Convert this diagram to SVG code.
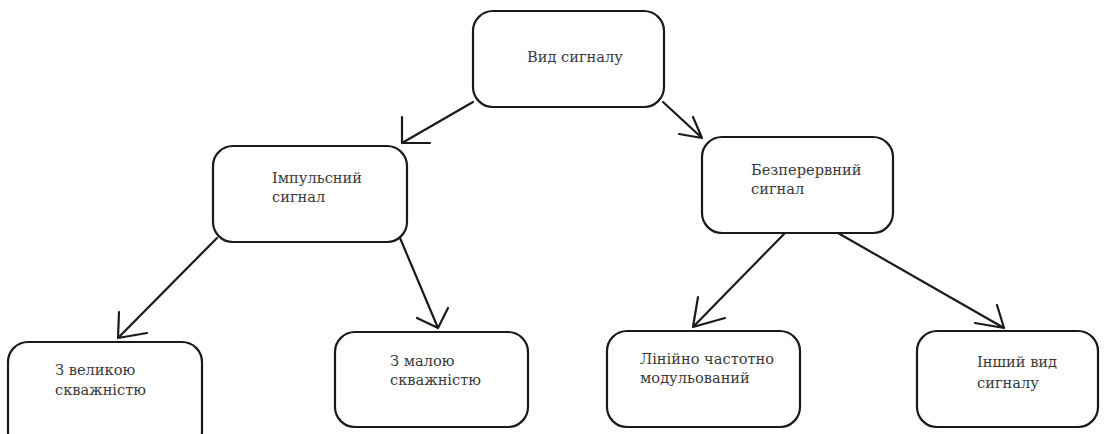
<svg xmlns="http://www.w3.org/2000/svg" width="1109" height="434" viewBox="0 0 1109 434">
<style>
.box{fill:#fff;stroke:#1a1a1a;stroke-width:2.2}
.t{font-family:'DejaVu Serif','Liberation Serif',serif;font-size:14.6px;fill:#3a3a3a}
.c{stroke:#1a1a1a;stroke-width:2.2;fill:none;stroke-linecap:round;stroke-linejoin:round}
</style>
<rect width="1109" height="434" fill="#fff"/>
<g id="connectors">
<path class="c" d="M473 102 L402 143 M402 117 L402 143 L430 143"/>
<path class="c" d="M663 102 L702 138 M693 117 L702 138 L679 134"/>
<path class="c" d="M217 238 L118 338 M119 312 L118 338 L147 333"/>
<path class="c" d="M400 238 L438 328 M448 308 L438 328 L417 318"/>
<path class="c" d="M785 233 L693 327 M698 297 L693 327 L725 318"/>
<path class="c" d="M838 233 L1004 328 M997 305 L1004 328 L975 323"/>
</g>
<g id="n-vyd">
<rect class="box" x="473" y="11" width="191" height="96" rx="20"/>
<text class="t" x="527" y="62">Вид сигналу</text>
</g>
<g id="n-imp">
<rect class="box" x="213" y="146" width="194" height="96" rx="20"/>
<text class="t" x="272" y="183">Імпульсний</text>
<text class="t" x="272" y="202">сигнал</text>
</g>
<g id="n-bez">
<rect class="box" x="702" y="137" width="191" height="96" rx="20"/>
<text class="t" x="751" y="175">Безперервний</text>
<text class="t" x="751" y="194">сигнал</text>
</g>
<g id="n-vel">
<rect class="box" x="8" y="342" width="194" height="110" rx="20"/>
<text class="t" x="55" y="375">З великою</text>
<text class="t" x="55" y="395">скважністю</text>
</g>
<g id="n-mal">
<rect class="box" x="335" y="332" width="193" height="95" rx="20"/>
<text class="t" x="390" y="366">З малою</text>
<text class="t" x="390" y="385">скважністю</text>
</g>
<g id="n-lin">
<rect class="box" x="607" y="331" width="193" height="96" rx="20"/>
<text class="t" x="640" y="364">Лінійно частотно</text>
<text class="t" x="640" y="383">модульований</text>
</g>
<g id="n-insh">
<rect class="box" x="917" y="331" width="181" height="96" rx="20"/>
<text class="t" x="977" y="367">Інший вид</text>
<text class="t" x="977" y="388">сигналу</text>
</g>
</svg>
